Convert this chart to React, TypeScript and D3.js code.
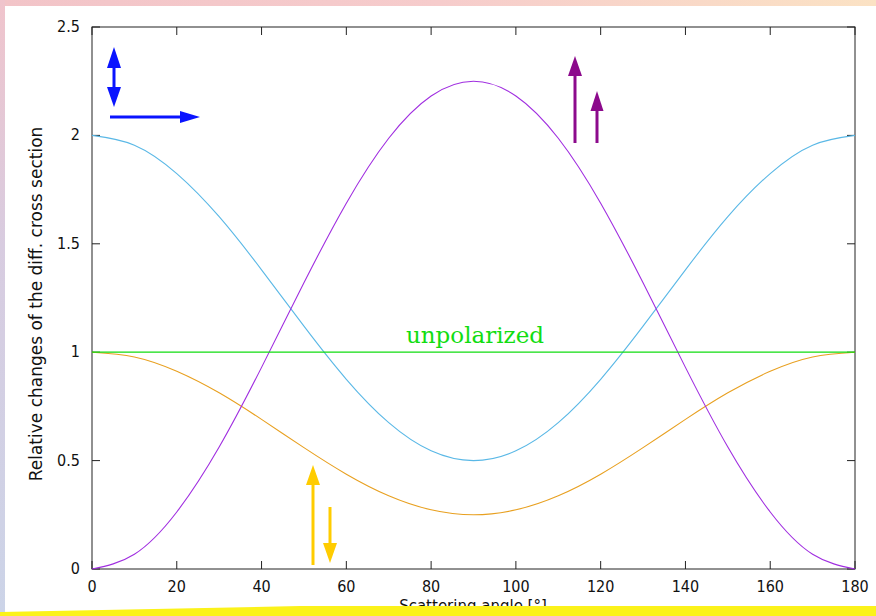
import React from "react";
import * as d3 from "d3";

const angles = [0, 10, 20, 30, 40, 50, 60, 70, 80, 90, 100, 110, 120, 130, 140, 150, 160, 170, 180];
const cyanVals = [2, 1.955, 1.824, 1.625, 1.38, 1.12, 0.875, 0.675, 0.545, 0.5, 0.545, 0.675, 0.875, 1.12, 1.38, 1.625, 1.824, 1.955, 2];
const orangeVals = [1, 0.978, 0.912, 0.8125, 0.69, 0.56, 0.4375, 0.338, 0.273, 0.25, 0.273, 0.338, 0.4375, 0.56, 0.69, 0.8125, 0.912, 0.978, 1];
const purpleVals = [0, 0.068, 0.263, 0.5625, 0.93, 1.32, 1.6875, 1.987, 2.182, 2.25, 2.182, 1.987, 1.6875, 1.32, 0.93, 0.5625, 0.263, 0.068, 0];
const greenVals = angles.map(() => 1);
const xTicks = [0, 20, 40, 60, 80, 100, 120, 140, 160, 180];
const yTicks = [0, 0.5, 1, 1.5, 2, 2.5];

const W = 876, H = 616;
const L = 92, R = 855, T = 27, B = 569;

export default function App() {
  const x = d3.scaleLinear().domain([0, 180]).range([L, R]);
  const y = d3.scaleLinear().domain([0, 2.5]).range([B, T]);
  const line = d3.line<[number, number]>().x(d => x(d[0])).y(d => y(d[1])).curve(d3.curveNatural);
  const mk = (vals: number[]) => line(angles.map((a, i) => [a, vals[i]] as [number, number])) || "";
  const tickFont = "'Liberation Sans Narrow', 'DejaVu Sans Condensed', 'Liberation Sans', sans-serif";

  const arrowHead = (x0: number, tipY: number, baseY: number, hw: number) =>
    `M${x0},${tipY} L${x0 - hw},${baseY} L${x0 + hw},${baseY} Z`;
  const arrowHeadH = (tipX: number, baseX: number, y0: number, hh: number) =>
    `M${tipX},${y0} L${baseX},${y0 - hh} L${baseX},${y0 + hh} Z`;

  return (
    <svg width={W} height={H} style={{ position: "absolute", left: 0, top: 0, display: "block" }}>
      <defs>
        <linearGradient id="topg" x1="0" x2="1" y1="0" y2="0">
          <stop offset="0" stopColor="#f2c4c8" />
          <stop offset="0.5" stopColor="#f6cccc" />
          <stop offset="1" stopColor="#fbe2c4" />
        </linearGradient>
        <linearGradient id="leftg" x1="0" x2="0" y1="0" y2="1">
          <stop offset="0" stopColor="#f0c4cc" />
          <stop offset="0.4" stopColor="#d8cce0" />
          <stop offset="1" stopColor="#ccd4e8" />
        </linearGradient>
      </defs>
      <rect x={0} y={0} width={W} height={H} fill="#ffffff" />
      <rect x={0} y={0} width={W} height={6} fill="url(#topg)" />

      {/* frame */}
      <rect x={L} y={T} width={R - L} height={B - T} fill="none" stroke="#222" strokeWidth={1} />
      {xTicks.map(t => (
        <g key={"xt" + t}>
          <line x1={x(t)} x2={x(t)} y1={B} y2={B - 8} stroke="#222" />
          <line x1={x(t)} x2={x(t)} y1={T} y2={T + 8} stroke="#222" />
          <text x={x(t)} y={592} textAnchor="middle" fontFamily={tickFont} fontSize={16} fill="#111">{t}</text>
        </g>
      ))}
      {yTicks.map(t => (
        <g key={"yt" + t}>
          <line x1={L} x2={L + 8} y1={y(t)} y2={y(t)} stroke="#222" />
          <line x1={R} x2={R - 8} y1={y(t)} y2={y(t)} stroke="#222" />
          <text x={80} y={y(t) + 5} textAnchor="end" fontFamily={tickFont} fontSize={16} fill="#111">{t}</text>
        </g>
      ))}

      {/* curves */}
      <path d={mk(cyanVals)} fill="none" stroke="#5ab8e6" strokeWidth={1.1} />
      <path d={mk(orangeVals)} fill="none" stroke="#e8a020" strokeWidth={1.1} />
      <path d={mk(purpleVals)} fill="none" stroke="#a02ee0" strokeWidth={1.1} />
      <path d={mk(greenVals)} fill="none" stroke="#11dd11" strokeWidth={1.3} />

      <text x={475} y={343} textAnchor="middle" fontFamily="'DejaVu Serif', 'Liberation Serif', serif" fontSize={23} fill="#11dd11">unpolarized</text>

      {/* blue arrows */}
      <line x1={114} x2={114} y1={62} y2={92} stroke="#0a14ff" strokeWidth={3} />
      <path d={arrowHead(114, 47, 68, 7)} fill="#0a14ff" />
      <path d={arrowHead(114, 107, 87, 7)} fill="#0a14ff" />
      <line x1={110} x2={185} y1={117} y2={117} stroke="#0a14ff" strokeWidth={3} />
      <path d={arrowHeadH(200, 180, 117, 6)} fill="#0a14ff" />

      {/* purple arrows */}
      <line x1={575} x2={575} y1={72} y2={143} stroke="#8c0a8c" strokeWidth={3} />
      <path d={arrowHead(575, 56, 76, 7)} fill="#8c0a8c" />
      <line x1={597} x2={597} y1={106} y2={143} stroke="#8c0a8c" strokeWidth={3} />
      <path d={arrowHead(597, 91, 111, 6.5)} fill="#8c0a8c" />

      {/* yellow arrows */}
      <line x1={313} x2={313} y1={480} y2={565} stroke="#ffcc00" strokeWidth={3} />
      <path d={arrowHead(313, 465, 485, 7)} fill="#ffcc00" />
      <line x1={330} x2={330} y1={507} y2={548} stroke="#ffcc00" strokeWidth={3} />
      <path d={arrowHead(330, 563, 543, 7)} fill="#ffcc00" />

      {/* axis titles */}
      <text transform={`translate(42,${(128 + 480) / 2}) rotate(-90)`} textAnchor="middle" fontFamily="'DejaVu Sans', sans-serif" fontSize={17} fill="#111">Relative changes of the diff. cross section</text>
      <text x={473} y={611} textAnchor="middle" fontFamily="'DejaVu Sans', sans-serif" fontSize={15} fill="#111">Scattering angle [°]</text>

      {/* bottom yellow band */}
      <path d={`M0,612 L300,606 L${W},606 L${W},${H} L0,${H} Z`} fill="#fbf21a" />
      <rect x={0} y={0} width={5} height={612} fill="url(#leftg)" />
    </svg>
  );
}
